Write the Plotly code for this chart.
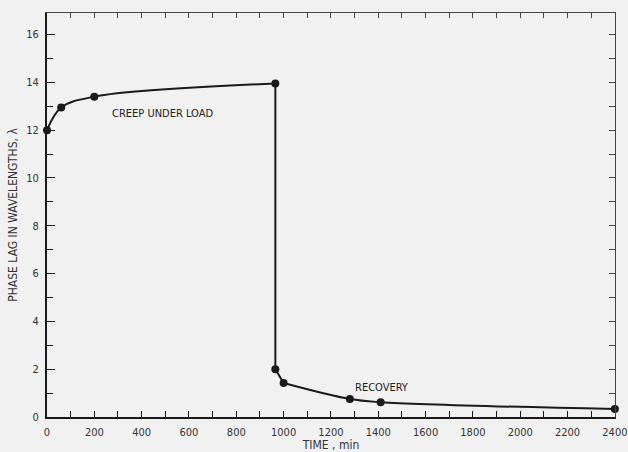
import plotly.graph_objects as go

# Data
creep_time = [0, 60, 200, 965]
creep_lag = [12.0, 12.95, 13.4, 13.95]
drop_time = [965, 965]
drop_lag = [13.95, 2.0]
recovery_time = [965, 1000, 1280, 1410, 2400]
recovery_lag = [2.0, 1.42, 0.75, 0.62, 0.33]

x_ticks = list(range(0, 2401, 200))
y_ticks = list(range(0, 17, 2))

FONT = "DejaVu Sans Condensed, Liberation Sans, sans-serif"
INK = "#1a1a1a"
BG = "#f1f1f1"

fig = go.Figure()

fig.add_trace(go.Scatter(x=creep_time, y=creep_lag, mode="lines",
                         line=dict(color=INK, width=2, shape="spline", smoothing=1.0),
                         hoverinfo="skip", showlegend=False))
fig.add_trace(go.Scatter(x=drop_time, y=drop_lag, mode="lines",
                         line=dict(color=INK, width=2),
                         hoverinfo="skip", showlegend=False))
fig.add_trace(go.Scatter(x=recovery_time[1:], y=recovery_lag[1:], mode="lines",
                         line=dict(color=INK, width=2, shape="spline", smoothing=1.0),
                         hoverinfo="skip", showlegend=False))
fig.add_trace(go.Scatter(x=recovery_time[:2], y=recovery_lag[:2], mode="lines",
                         line=dict(color=INK, width=2),
                         hoverinfo="skip", showlegend=False))
# markers
fig.add_trace(go.Scatter(x=creep_time + recovery_time, y=creep_lag + recovery_lag,
                         mode="markers", marker=dict(color=INK, size=8),
                         cliponaxis=False, showlegend=False))
# invisible trace to activate top/right mirror axes
fig.add_trace(go.Scatter(x=[0], y=[0], xaxis="x2", yaxis="y2", mode="markers",
                         marker=dict(opacity=0), hoverinfo="skip", showlegend=False))

fig.add_annotation(x=490, y=12.7, text="CREEP UNDER LOAD", showarrow=False,
                   font=dict(family=FONT, size=11, color="#222"))
fig.add_annotation(x=1415, y=1.25, text="RECOVERY", showarrow=False,
                   font=dict(family=FONT, size=11, color="#222"))

fig.update_layout(
    width=628, height=452,
    margin=dict(l=47, r=13, t=13, b=35),
    paper_bgcolor=BG, plot_bgcolor=BG,
    font=dict(family=FONT, size=12, color="#333"),
    xaxis=dict(range=[0, 2400.5], tickvals=x_ticks, ticks="inside", ticklen=6,
               tickcolor=INK, tickwidth=1, showline=True, linewidth=2, linecolor=INK,
               showgrid=False, zeroline=False, automargin=False,
               ticklabeloverflow="allow", ticklabelstandoff=4, tickfont=dict(size=11),
               minor=dict(dtick=100, ticks="inside", ticklen=6, tickcolor=INK, showgrid=False),
               title=dict(text="TIME , min", standoff=4, font=dict(size=12))),
    yaxis=dict(range=[0, 16.9], tickvals=y_ticks, ticks="inside", ticklen=8,
               tickcolor=INK, tickwidth=1, showline=True, linewidth=2, linecolor=INK,
               showgrid=False, zeroline=False, automargin=False, tickfont=dict(size=11),
               ticklabelstandoff=4,
               minor=dict(dtick=1, ticks="inside", ticklen=6, tickcolor=INK, showgrid=False),
               title=dict(text="PHASE LAG IN WAVELENGTHS, λ", standoff=6, font=dict(size=12))),
    xaxis2=dict(range=[0, 2400.5], overlaying="x", side="top", anchor="y",
                tickvals=list(range(100, 2400, 100)), ticks="inside", ticklen=5,
                tickcolor="#444", showticklabels=False, showline=True, linewidth=1,
                linecolor="#444", showgrid=False, zeroline=False, automargin=False),
    yaxis2=dict(range=[0, 16.9], overlaying="y", side="right", anchor="x",
                tickvals=list(range(1, 17)), ticks="inside", ticklen=6,
                tickcolor="#444", showticklabels=False, showline=True, linewidth=1,
                linecolor="#444", showgrid=False, zeroline=False, automargin=False),
)

fig.write_html("out.html", config={"displayModeBar": False},
               post_script="document.body.style.margin='0';document.body.style.overflow='hidden';")
